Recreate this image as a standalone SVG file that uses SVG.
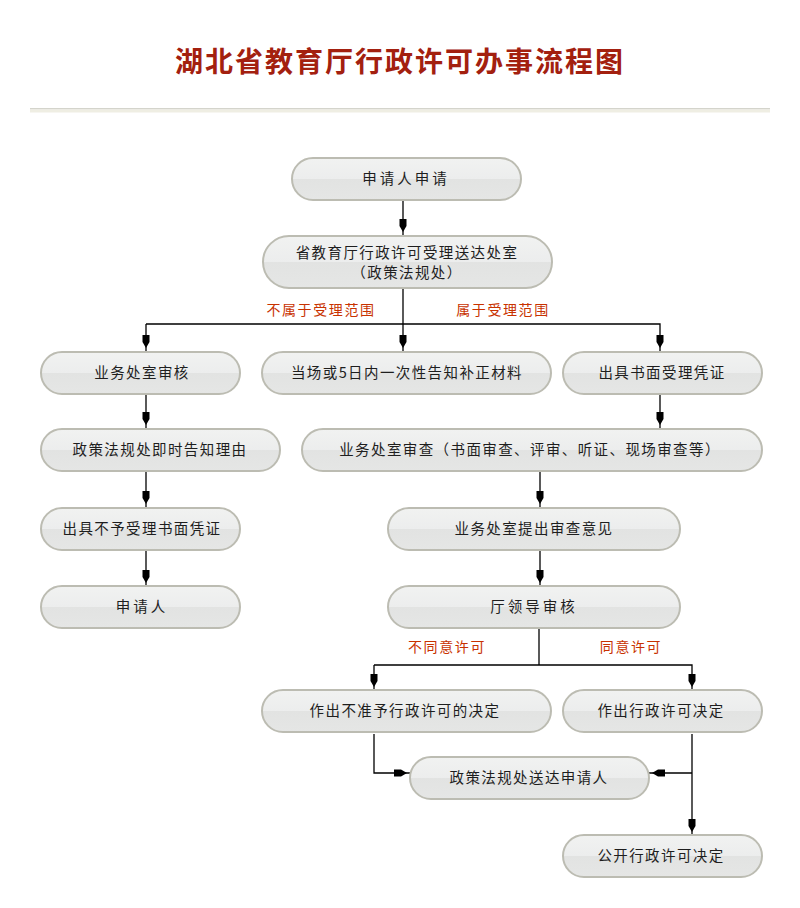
<svg xmlns="http://www.w3.org/2000/svg" width="800" height="908" viewBox="0 0 800 908">
<style>
text{font-family:"Noto Sans CJK SC","Liberation Sans",sans-serif}
.title{font-size:28px;font-weight:bold;fill:#a3200f;letter-spacing:2px}
.box{fill:url(#g);stroke:#bcbcb2;stroke-width:2}
.t{font-size:14.5px;fill:#1e1e1e;text-anchor:middle;letter-spacing:1.4px}
.w{letter-spacing:3px}
.lbl{font-size:14px;fill:#c83200;text-anchor:middle;letter-spacing:1.6px}
.c{fill:none;stroke:#000;stroke-width:1.3}
.a{marker-end:url(#ah)}
</style>
<defs>
<linearGradient id="g" x1="0" y1="0" x2="0" y2="1">
<stop offset="0" stop-color="#f1f2f1"/>
<stop offset="0.5" stop-color="#eceded"/>
<stop offset="0.5" stop-color="#e2e3e2"/>
<stop offset="1" stop-color="#e5e6e5"/>
</linearGradient>
<marker id="ah" markerUnits="userSpaceOnUse" viewBox="-14 -6 16 12" markerWidth="16" markerHeight="12" refX="3" refY="0" orient="auto">
<path d="M-13,-3.5 L-6,-3.5 L0,0 L-6,3.5 L-13,3.5 Z" fill="#000"/>
</marker>
</defs>
<rect width="800" height="908" fill="#fff"/>
<text class="title" x="400" y="72" text-anchor="middle">湖北省教育厅行政许可办事流程图</text>
<rect x="30" y="108" width="740" height="1.5" fill="#d4d4cc"/>
<rect x="30" y="109.5" width="740" height="3" fill="#efeee3"/>

<g id="connectors">
<path class="c a" d="M403,201 V235"/>
<path class="c" d="M403,288 V324"/>
<path class="c a" d="M403,324 V351"/>
<path class="c a" d="M146,324 H660 V351"/>
<path class="c a" d="M146,324 V351"/>
<path class="c a" d="M146,395 V428"/>
<path class="c a" d="M660,395 V428"/>
<path class="c a" d="M146,472 V507"/>
<path class="c a" d="M540,472 V507"/>
<path class="c a" d="M146,551 V586"/>
<path class="c a" d="M540,551 V586"/>
<path class="c" d="M539,629 V665"/>
<path class="c a" d="M374,665 H692 V690"/>
<path class="c a" d="M374,665 V690"/>
<path class="c a" d="M374,734 V773 H410"/>
<path class="c a" d="M692,734 V835"/>
<path class="c a" d="M692,773 H649"/>
</g>
<g id="labels">
<text class="lbl" x="321" y="315">不属于受理范围</text>
<text class="lbl" x="503" y="315">属于受理范围</text>
<text class="lbl" x="447" y="652">不同意许可</text>
<text class="lbl" x="631" y="652">同意许可</text>
</g>

<g id="n1"><rect class="box" x="292" y="158" width="229" height="42" rx="21"/><text class="t w" x="406" y="184">申请人申请</text></g>
<g id="n2"><rect class="box" x="263" y="236" width="289" height="52" rx="26"/><text class="t" x="407" y="258">省教育厅行政许可受理送达处室</text><text class="t" x="407" y="278">（政策法规处）</text></g>
<g id="n3"><rect class="box" x="41" y="352" width="199" height="42" rx="21"/><text class="t" x="142" y="378">业务处室审核</text></g>
<g id="n4"><rect class="box" x="262" y="352" width="289" height="42" rx="21"/><text class="t" x="407" y="378">当场或5日内一次性告知补正材料</text></g>
<g id="n5"><rect class="box" x="563" y="352" width="199" height="42" rx="21"/><text class="t" x="662" y="378">出具书面受理凭证</text></g>
<g id="n6"><rect class="box" x="41" y="429" width="239" height="42" rx="21"/><text class="t" x="160" y="455">政策法规处即时告知理由</text></g>
<g id="n7"><rect class="box" x="302" y="429" width="460" height="42" rx="21"/><text class="t" x="530" y="455">业务处室审查（书面审查、评审、听证、现场审查等）</text></g>
<g id="n8"><rect class="box" x="41" y="508" width="199" height="42" rx="21"/><text class="t" x="142" y="534">出具不予受理书面凭证</text></g>
<g id="n9"><rect class="box" x="388" y="508" width="292" height="42" rx="21"/><text class="t" x="534" y="534">业务处室提出审查意见</text></g>
<g id="n10"><rect class="box" x="41" y="586" width="199" height="42" rx="21"/><text class="t w" x="142" y="612">申请人</text></g>
<g id="n11"><rect class="box" x="388" y="586" width="292" height="42" rx="21"/><text class="t w" x="534" y="612">厅领导审核</text></g>
<g id="n12"><rect class="box" x="262" y="690" width="289" height="42" rx="21"/><text class="t" x="405" y="716">作出不准予行政许可的决定</text></g>
<g id="n13"><rect class="box" x="563" y="690" width="199" height="42" rx="21"/><text class="t" x="661" y="716">作出行政许可决定</text></g>
<g id="n14"><rect class="box" x="410" y="757" width="239" height="42" rx="21"/><text class="t" x="529" y="783">政策法规处送达申请人</text></g>
<g id="n15"><rect class="box" x="563" y="835" width="199" height="42" rx="21"/><text class="t" x="661" y="861">公开行政许可决定</text></g>
</svg>
